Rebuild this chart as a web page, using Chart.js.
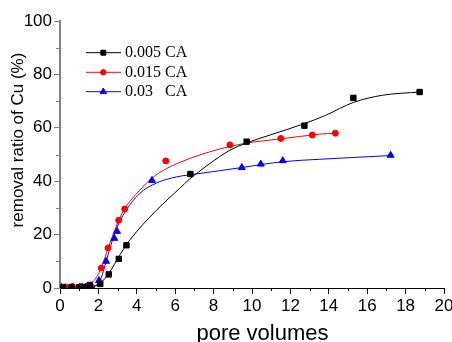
<!DOCTYPE html>
<html><head><meta charset="utf-8">
<script src="https://cdn.jsdelivr.net/npm/chart.js@4/dist/chart.umd.min.js"></script>
<style>html,body{margin:0;padding:0;background:#fff}canvas{display:block}</style>
</head><body>
<canvas id="c" width="452" height="342"></canvas>
<script>
const xTickValues = [0,2,4,6,8,10,12,14,16,18,20];
const yTickValues = [0,20,40,60,80,100];
const xMinorTicks = [1,3,5,7,9,11,13,15,17,19];
const yMinorTicks = [10,30,50,70,90];
const seriesLabels = ['0.005 CA','0.015 CA','0.03   CA'];
const xTitle = 'pore volumes';
const yTitle = 'removal ratio of Cu (%)';

// measured points
const ca005X = [0.15,0.6,1.0,1.3,1.55,2.1,2.54,3.06,3.46,6.79,9.72,12.73,15.28,18.73];
const ca005Y = [0.3,0.3,0.3,0.4,1.1,1.5,5.1,10.9,16.0,42.7,54.8,60.8,71.2,73.4];
const ca015X = [0.28,0.65,1.11,1.58,2.15,2.5,3.06,3.37,5.51,8.85,11.5,13.14,14.34];
const ca015Y = [0.4,0.6,0.6,1.1,7.5,15.0,25.4,29.6,47.6,53.6,56.0,57.3,58.0];
const ca03X = [0.09,0.68,1.03,1.34,1.63,2.03,2.4,2.83,2.97,4.79,9.47,10.46,11.6,17.22];
const ca03Y = [0.3,0.3,0.3,0.3,0.6,2.8,10.0,18.6,21.2,40.3,45.1,46.4,47.7,49.7];

// fitted curves
const fit005X = [0,1.6,2.07,2.59,3.1,3.63,5.02,6.23,6.75,7.3,7.8,8.85,9.7,10.94,12.7,13.84,15.28,16.8,18.73];
const fit005Y = [0.3,0.4,1.6,6.0,12.2,17.9,29.1,37.3,40.8,43.9,46.6,51.6,54.3,57.3,61.5,64.7,69.5,72.2,73.4];
const fit015X = [0,1.3,1.55,1.85,2.17,2.5,3.06,3.37,4.15,4.76,5.54,6.76,7.8,8.85,10.0,11.45,13.5,14.34];
const fit015Y = [0.4,0.6,1.4,3.5,7.9,14.8,25.4,29.7,36.6,41.0,44.7,48.5,51.0,53.0,54.6,55.8,57.6,58.0];
const fit03X = [0,1.6,1.85,2.07,2.42,2.85,3.28,4.15,5.02,6.06,6.76,7.8,9.45,11.6,13.5,17.22];
const fit03Y = [0.3,0.5,1.0,2.4,10.4,20.5,27.2,35.4,39.3,41.6,42.4,43.4,45.1,47.3,48.2,49.6];

const colors = ['#000000','#ff0000','#0000ff'];
const markers = ['rect','circle','triangle'];
const radii = [3.8,3,4];
const SANS = "'Liberation Sans', Arial, sans-serif";
const SERIF = "'Liberation Serif', 'Times New Roman', serif";

const zip = (xs, ys) => xs.map((x,i)=>({x, y: ys[i]}));
const pts = [zip(ca005X,ca005Y), zip(ca015X,ca015Y), zip(ca03X,ca03Y)];
const fits = [zip(fit005X,fit005Y), zip(fit015X,fit015Y), zip(fit03X,fit03Y)];

const datasets = [];
for (let i=0;i<3;i++){
  datasets.push({label: seriesLabels[i]+' fit', data: fits[i], showLine:true, borderColor: colors[i],
    borderWidth:1, pointRadius:0, cubicInterpolationMode:'monotone', fill:false, order: 10+i});
}
for (let i=0;i<3;i++){
  datasets.push({label: seriesLabels[i], data: pts[i], showLine:false, pointStyle: markers[i],
    pointRadius: radii[i], backgroundColor: colors[i], borderColor: colors[i], borderWidth:1, order: i});
}

const extras = {
  id:'extras',
  afterDraw(chart){
    const ctx = chart.ctx; const {left, bottom} = chart.chartArea;
    const xs = chart.scales.x, ys = chart.scales.y;
    ctx.save();
    ctx.lineWidth = 1;
    ctx.strokeStyle = '#000';
    for (const v of xMinorTicks){
      const p = Math.round(xs.getPixelForValue(v)) + 0.5;
      ctx.beginPath(); ctx.moveTo(p, bottom); ctx.lineTo(p, bottom+3); ctx.stroke();
    }
    ctx.strokeStyle = '#808080';
    for (const v of yMinorTicks){
      const p = Math.round(ys.getPixelForValue(v)) + 0.5;
      ctx.beginPath(); ctx.moveTo(left-4, p); ctx.lineTo(left, p); ctx.stroke();
    }
    // axis titles
    ctx.fillStyle = '#000';
    ctx.font = "22px " + SANS;
    ctx.textAlign = 'center'; ctx.textBaseline = 'alphabetic';
    ctx.fillText(xTitle, 262.5, 340);
    ctx.save();
    ctx.translate(18.5, 140); ctx.rotate(-Math.PI/2);
    ctx.font = "17px " + SANS; ctx.textBaseline = 'middle';
    ctx.fillText(yTitle, 0, 0);
    ctx.restore();
    // legend
    const rows = [52.7, 72.3, 91.7];
    for (let i=0;i<3;i++){
      const y = rows[i];
      ctx.strokeStyle = colors[i]; ctx.fillStyle = colors[i]; ctx.lineWidth = 1;
      ctx.beginPath(); ctx.moveTo(86, y); ctx.lineTo(121, y); ctx.stroke();
      Chart.helpers.drawPoint(ctx, {pointStyle: markers[i], radius: radii[i]-0.3, rotation:0, borderWidth:1}, 103.3, y);
      ctx.fillStyle = '#000';
      ctx.font = "16px " + SERIF; ctx.textAlign = 'left'; ctx.textBaseline = 'middle';
      ctx.fillText(seriesLabels[i], 125, y+0.5);
    }
    ctx.restore();
  }
};

new Chart(document.getElementById('c'), {
  type:'scatter',
  data:{datasets},
  options:{
    responsive:false, animation:false,
    layout:{padding:{top:21,right:8,left:0,bottom:0}},
    plugins:{legend:{display:false}, tooltip:{enabled:false}},
    scales:{
      x:{type:'linear', min:0, max:20,
        afterBuildTicks: s => { s.ticks = xTickValues.map(v=>({value:v})); },
        border:{color:'#000', width:1},
        grid:{drawOnChartArea:false, drawTicks:true, tickLength:6, color:'#000'},
        ticks:{color:'#000', font:{family:SANS, size:17}, padding:2, maxRotation:0, autoSkip:false},
        afterFit: s => { s.height = 54; s.paddingLeft = 0; s.paddingRight = 0; }
      },
      y:{type:'linear', min:0, max:100,
        afterBuildTicks: s => { s.ticks = yTickValues.map(v=>({value:v})); },
        border:{color:'#808080', width:2},
        grid:{drawOnChartArea:false, drawTicks:true, tickLength:6, color:'#808080'},
        ticks:{color:'#000', font:{family:SANS, size:17}, padding:2, autoSkip:false},
        afterFit: s => { s.width = 60; s.paddingTop = 0; s.paddingBottom = 0; }
      }
    }
  },
  plugins:[extras]
});
</script>
</body></html>
